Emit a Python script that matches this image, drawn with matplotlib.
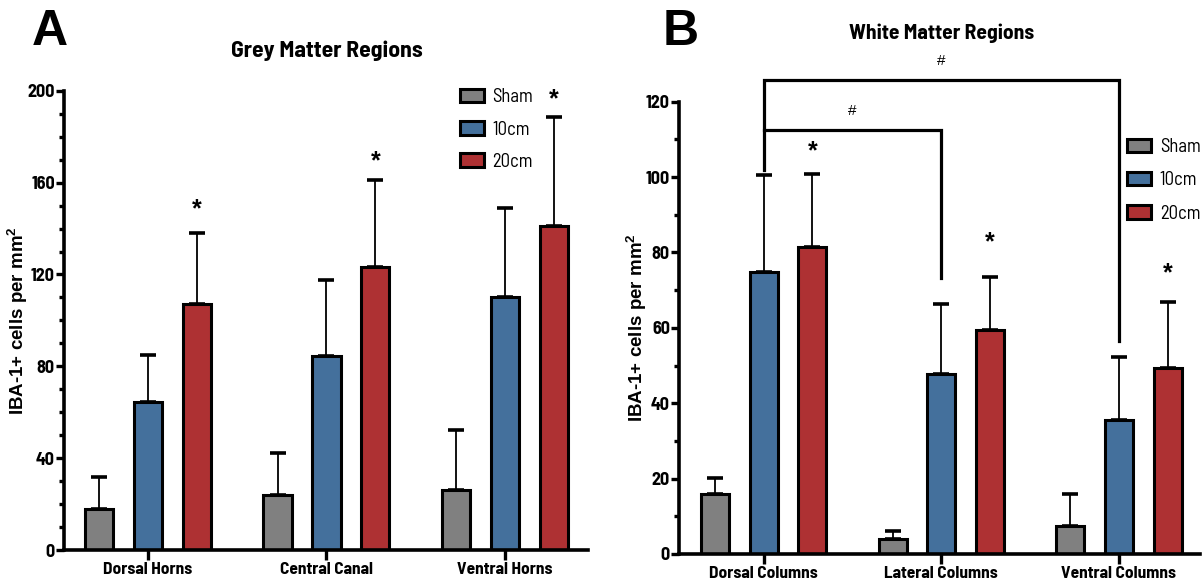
import numpy as np
import matplotlib.pyplot as plt

# condensed bold face similar to Arial Narrow, with fallbacks
plt.rcParams['font.family'] = ['Barlow Semi Condensed', 'Liberation Sans', 'DejaVu Sans']
plt.rcParams['mathtext.fontset'] = 'custom'
plt.rcParams['mathtext.rm'] = 'Liberation Sans'
plt.rcParams['mathtext.bf'] = 'Liberation Sans:bold'

groups = ['Sham', '10cm', '20cm']
colors = ['#808080', '#44709c', '#ae3133']

grey_regions = ['Dorsal Horns', 'Central Canal', 'Ventral Horns']
grey_mean = {'Sham': [17.8, 24.0, 26.2],
             '10cm': [64.5, 84.4, 110.3],
             '20cm': [107.3, 123.3, 141.2]}
grey_err = {'Sham': [13.9, 18.2, 26.2],
            '10cm': [20.5, 33.1, 38.5],
            '20cm': [30.7, 37.7, 47.3]}
grey_stars = [148.5, 169.3, 196.5]

white_regions = ['Dorsal Columns', 'Lateral Columns', 'Ventral Columns']
white_mean = {'Sham': [15.8, 4.1, 7.5],
              '10cm': [74.9, 47.8, 35.6],
              '20cm': [81.5, 59.4, 49.3]}
white_err = {'Sham': [4.4, 2.1, 8.5],
             '10cm': [25.7, 18.4, 16.7],
             '20cm': [19.4, 14.2, 17.5]}
white_stars = [106.7, 82.6, 74.5]


def panel(ax, regions, means, errs, stars, ymax, ystep, xlim, legend_anchor, spacing):
    x = np.arange(len(regions))
    off = 0.274
    w = 0.158
    for i, g in enumerate(groups):
        xs = x + (i - 1) * off
        ax.bar(xs, means[g], w, color=colors[i], edgecolor='black', linewidth=2.2,
               label=g, zorder=2)
        ax.errorbar(xs, means[g], yerr=[np.zeros(len(xs)), errs[g]], fmt='none',
                    ecolor='black', elinewidth=1.3, capsize=5.5, capthick=2.6, zorder=3)
    for xi, s in zip(x + off, stars):
        ax.text(xi, s, '*', ha='center', va='center', fontsize=18, fontweight='bold',
                family='Liberation Sans')
    ax.set_xlim(*xlim)
    ax.set_ylim(0, ymax)
    ax.set_yticks(np.arange(0, ymax + 1, ystep))
    ax.set_yticks(np.arange(0, ymax + 1, 10), minor=True)
    ax.set_xticks(x)
    ax.set_xticklabels(regions, fontsize=12.5, fontweight='bold')
    for lab in ax.get_yticklabels():
        lab.set_fontsize(13)
        lab.set_fontweight('bold')
    ax.spines['top'].set_visible(False)
    ax.spines['right'].set_visible(False)
    ax.spines['left'].set_linewidth(2.6)
    ax.spines['bottom'].set_linewidth(2.6)
    ax.tick_params(which='major', length=6, width=2.4, pad=0.5)
    ax.tick_params(which='minor', length=3.5, width=2.4)
    ax.tick_params(axis='x', length=7, pad=1.5)
    ax.set_ylabel(r'IBA-1+ cells per mm$^\mathbf{2}$', fontsize=13.5, fontweight='bold',
                  family='Liberation Sans', labelpad=10)
    ax.legend(loc='upper left', bbox_to_anchor=legend_anchor, frameon=False,
              fontsize=13.5, handlelength=1.3, handleheight=0.7, labelspacing=spacing,
              handletextpad=0.45, borderaxespad=0, borderpad=0)
    return x


fig = plt.figure(figsize=(12.02, 5.85), dpi=100)
axA = fig.add_axes([0.0532, 0.0598, 0.436, 0.785])
axB = fig.add_axes([0.5649, 0.053, 0.4334, 0.7732])

panel(axA, grey_regions, grey_mean, grey_err, grey_stars, 200, 40,
      (-0.47, 2.465), (0.755, 1.005), 0.75)
xB = panel(axB, white_regions, white_mean, white_err, white_stars, 120, 20,
           (-0.476, 2.456), (0.86, 0.92), 0.82)
axA.yaxis.set_label_coords(-0.064, 0.5)
axB.yaxis.set_label_coords(-0.058, 0.5)

# significance brackets in panel B
brk = dict(color='black', lw=2.3, clip_on=False, solid_joinstyle='miter')
axB.plot([xB[0], xB[0], xB[2], xB[2]], [101.9, 125.8, 125.8, 56.6], **brk)
axB.plot([xB[0], xB[1], xB[1]], [112.5, 112.5, 73.1], **brk)
axB.text((xB[0] + xB[2]) / 2, 130.8, '#', ha='center', va='center', fontsize=11,
         family='Liberation Sans')
axB.text((xB[0] + xB[1]) / 2, 117.5, '#', ha='center', va='center', fontsize=11,
         family='Liberation Sans')

fig.text(0.272, 0.913, 'Grey Matter Regions', ha='center', va='center',
         fontsize=17, fontweight='bold')
fig.text(0.783, 0.944, 'White Matter Regions', ha='center', va='center',
         fontsize=15.5, fontweight='bold')
fig.text(0.026, 0.945, 'A', fontsize=36, fontweight='bold', family='Liberation Sans',
         va='center')
fig.text(0.551, 0.945, 'B', fontsize=36, fontweight='bold', family='Liberation Sans',
         va='center')

fig.savefig('out.png', dpi=100)
